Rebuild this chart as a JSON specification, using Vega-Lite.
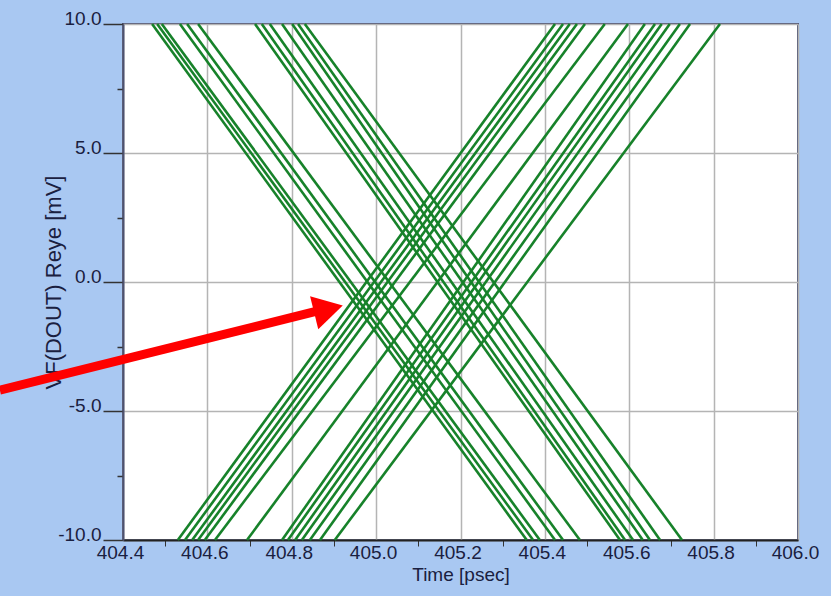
{
  "$schema": "https://vega.github.io/schema/vega-lite/v6.json",
  "width": 675,
  "height": 516,
  "autosize": {"type": "none"},
  "padding": {"left": 123, "top": 24, "right": 33, "bottom": 56},
  "background": "#a9c8f2",
  "config": {
    "view": {"fill": "white", "stroke": "#4e5270", "strokeWidth": 2},
    "font": "Liberation Sans"
  },
  "datasets": {
    "traces": [
      {"id": "F1", "t": 404.469, "v": 10}, {"id": "F1", "t": 405.357, "v": -10},
      {"id": "F2", "t": 404.481, "v": 10}, {"id": "F2", "t": 405.372, "v": -10},
      {"id": "F3", "t": 404.492, "v": 10}, {"id": "F3", "t": 405.388, "v": -10},
      {"id": "F4", "t": 404.535, "v": 10}, {"id": "F4", "t": 405.424, "v": -10},
      {"id": "F5", "t": 404.552, "v": 10}, {"id": "F5", "t": 405.443, "v": -10},
      {"id": "F6", "t": 404.578, "v": 10}, {"id": "F6", "t": 405.483, "v": -10},
      {"id": "F7", "t": 404.713, "v": 10}, {"id": "F7", "t": 405.578, "v": -10},
      {"id": "F8", "t": 404.729, "v": 10}, {"id": "F8", "t": 405.590, "v": -10},
      {"id": "F9", "t": 404.748, "v": 10}, {"id": "F9", "t": 405.609, "v": -10},
      {"id": "F10", "t": 404.777, "v": 10}, {"id": "F10", "t": 405.632, "v": -10},
      {"id": "F11", "t": 404.801, "v": 10}, {"id": "F11", "t": 405.649, "v": -10},
      {"id": "F12", "t": 404.815, "v": 10}, {"id": "F12", "t": 405.673, "v": -10},
      {"id": "F13", "t": 404.831, "v": 10}, {"id": "F13", "t": 405.725, "v": -10},
      {"id": "R1", "t": 404.530, "v": -10}, {"id": "R1", "t": 405.424, "v": 10},
      {"id": "R2", "t": 404.547, "v": -10}, {"id": "R2", "t": 405.443, "v": 10},
      {"id": "R3", "t": 404.564, "v": -10}, {"id": "R3", "t": 405.459, "v": 10},
      {"id": "R4", "t": 404.578, "v": -10}, {"id": "R4", "t": 405.476, "v": 10},
      {"id": "R5", "t": 404.594, "v": -10}, {"id": "R5", "t": 405.495, "v": 10},
      {"id": "R6", "t": 404.618, "v": -10}, {"id": "R6", "t": 405.542, "v": 10},
      {"id": "R7", "t": 404.694, "v": -10}, {"id": "R7", "t": 405.597, "v": 10},
      {"id": "R8", "t": 404.777, "v": -10}, {"id": "R8", "t": 405.637, "v": 10},
      {"id": "R9", "t": 404.791, "v": -10}, {"id": "R9", "t": 405.661, "v": 10},
      {"id": "R10", "t": 404.808, "v": -10}, {"id": "R10", "t": 405.677, "v": 10},
      {"id": "R11", "t": 404.824, "v": -10}, {"id": "R11", "t": 405.696, "v": 10},
      {"id": "R12", "t": 404.843, "v": -10}, {"id": "R12", "t": 405.720, "v": 10},
      {"id": "R13", "t": 404.867, "v": -10}, {"id": "R13", "t": 405.744, "v": 10},
      {"id": "R14", "t": 404.902, "v": -10}, {"id": "R14", "t": 405.815, "v": 10}
    ],
    "arrow": [{"x1": 404.108, "y1": -4.19, "x2": 404.862, "y2": -1.12}],
    "head": [{"x": 404.887, "y": -1.05, "a": 346}]
  },
  "layer": [
    {
      "data": {"name": "traces"},
      "mark": {"type": "line", "color": "#17822a", "strokeWidth": 2.6},
      "encoding": {
        "x": {
          "field": "t",
          "type": "quantitative",
          "scale": {"domain": [404.4, 406.0], "nice": false, "zero": false},
          "axis": {
            "values": [404.4, 404.5, 404.6, 404.7, 404.8, 404.9, 405.0, 405.1, 405.2, 405.3, 405.4, 405.5, 405.6, 405.7, 405.8, 405.9, 406.0],
            "labelExpr": "round(datum.value*10) % 2 == 0 ? format(datum.value, '.1f') : ''",
            "grid": true,
            "gridColor": "#b4b4b4",
            "gridWidth": 1.5,
            "gridOpacity": {"condition": {"test": "round(datum.value*10) % 2 == 0", "value": 1}, "value": 0},
            "ticks": true,
            "tickSize": 6,
            "tickColor": "#333333",
            "tickOpacity": {"condition": {"test": "round(datum.value*10) % 2 == 0", "value": 0}, "value": 1},
            "labelPadding": -3,
            "labelOffset": -3,
            "labelFontSize": 19,
            "labelColor": "#1a2040",
            "labelFlush": false,
            "labelOverlap": false,
            "domainColor": "#222222",
            "domainWidth": 2,
            "title": "Time [psec]",
            "titleFontSize": 19,
            "titleFontWeight": "normal",
            "titleColor": "#1a2040",
            "titlePadding": 3
          }
        },
        "y": {
          "field": "v",
          "type": "quantitative",
          "scale": {"domain": [-10, 10], "nice": false, "zero": false},
          "axis": {
            "values": [-10, -8.75, -7.5, -6.25, -5, -3.75, -2.5, -1.25, 0, 1.25, 2.5, 3.75, 5, 6.25, 7.5, 8.75, 10],
            "labelExpr": "abs(datum.value % 5) < 0.01 ? replace(format(datum.value, '.1f'), '\u2212', '-') : ''",
            "grid": true,
            "gridColor": "#b4b4b4",
            "gridWidth": 1.5,
            "gridOpacity": {"condition": {"test": "abs(datum.value % 5) < 0.01", "value": 1}, "value": 0},
            "tickSize": {"condition": {"test": "abs(datum.value % 5) < 0.01", "value": 20}, "value": 6},
            "tickColor": "#333333",
            "tickWidth": 1.5,
            "labelPadding": 2,
            "labelBaseline": "alphabetic",
            "labelFontSize": 19,
            "labelColor": "#1a2040",
            "labelFlush": false,
            "labelOverlap": false,
            "domainColor": "#4e5270",
            "domainWidth": 2,
            "title": "VF(DOUT) Reye [mV]",
            "titleFontSize": 22,
            "titleFontWeight": "normal",
            "titleColor": "#1a2040",
            "titlePadding": -8
          }
        },
        "detail": {"field": "id"}
      }
    },
    {
      "data": {"name": "arrow"},
      "mark": {"type": "rule", "color": "#ff0000", "strokeWidth": 9},
      "encoding": {
        "x": {"field": "x1", "type": "quantitative"},
        "y": {"field": "y1", "type": "quantitative"},
        "x2": {"field": "x2"},
        "y2": {"field": "y2"}
      }
    },
    {
      "data": {"name": "head"},
      "mark": {"type": "point", "shape": "triangle-right", "filled": true, "color": "#ff0000", "size": 1156, "opacity": 1},
      "encoding": {
        "x": {"field": "x", "type": "quantitative"},
        "y": {"field": "y", "type": "quantitative"},
        "angle": {"field": "a", "type": "quantitative", "scale": null}
      }
    }
  ]
}
